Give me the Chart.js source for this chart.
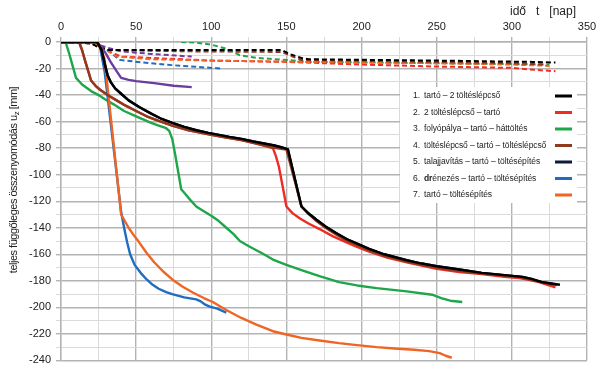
<!DOCTYPE html>
<html>
<head>
<meta charset="utf-8">
<script src="https://cdn.jsdelivr.net/npm/chart.js@4"></script>
<style>
  html,body{margin:0;padding:0;background:#fff;}
  #wrap{width:600px;height:372px;}
</style>
</head>
<body>
<div id="wrap"><canvas id="settle"></canvas></div>
<script>
// time [nap] and settlement u_z [mm] for each curve
// solid curves
const blackT = [0, 24, 27, 29, 31, 33, 36, 40, 45, 52, 60, 67, 74, 82, 90, 98, 105, 112, 120, 128, 135, 142, 147, 151, 160, 165, 170, 176, 183, 190, 197, 205, 215, 230, 240, 250, 265, 280, 295, 307, 313, 320, 326, 332];
const blackU = [0, 0, -6, -16, -25, -30, -35, -39, -44, -49, -54, -58, -61, -64, -66.5, -68.5, -70, -71.5, -73, -75, -76.5, -78, -79.5, -81, -124, -129.5, -134, -139, -144, -148.5, -152, -156, -160, -164.5, -167, -169, -171.5, -174, -175.7, -177, -178.5, -181, -182, -183];
const redT = [0, 12, 14, 16, 20, 23, 26, 31, 37, 43, 50, 57, 65, 74, 85, 100, 110, 120, 130, 141, 143, 145, 148, 150, 154, 159, 165, 172, 181, 190, 197, 205, 217, 230, 240, 250, 265, 280, 295, 305, 312, 318, 329];
const redU = [0, 0, -6, -14, -29, -33, -36, -40, -44, -48, -52, -56, -59.5, -63, -66.5, -70, -72, -74, -76.5, -80, -86, -94, -112, -124, -129, -133, -137, -141, -146.5, -151, -154.5, -158, -162.5, -166, -168.5, -171, -173.5, -175, -177, -178, -179.5, -181, -185];
const greenT = [0, 3, 5, 7, 10, 14, 20, 25, 29, 35, 42, 50, 55, 60, 65, 70, 72, 74, 76, 78, 80, 83, 86, 90, 95, 100, 105, 110, 115, 119, 125, 130, 135, 141, 150, 160, 172, 185, 197, 210, 230, 247, 253, 259, 267];
const greenU = [0, 0, -7, -15, -27, -32, -37, -40, -43, -47, -52, -56, -58.5, -61, -63, -65, -67, -73, -85, -98, -111, -115, -119, -124, -127.5, -131, -135, -140, -145, -150, -154, -157, -160, -164, -168, -172, -176.5, -181, -183.5, -185.5, -188, -190.5, -193, -195, -196];
const brownT = [0, 12, 14, 16, 20, 23, 26, 31, 37, 43, 50, 57, 65, 74, 85, 100, 110, 120, 130, 141, 150, 160, 165, 170, 176, 183, 190, 197, 205, 215, 230, 240, 250, 265, 280, 295, 305, 312, 320, 328];
const brownU = [0, 0, -6, -14, -29, -33, -36, -40, -44, -48, -52, -56, -59.5, -63, -66.5, -70, -72, -74, -76.5, -79.5, -81, -124, -130, -135, -140, -145, -149.5, -153, -157, -161, -165.5, -168, -170, -172.5, -174.5, -176, -177, -179, -181, -183];
const navyT = [0, 24, 27, 29, 31, 33, 36, 40, 45, 52, 60, 67, 74, 82, 90, 98, 105, 112, 120, 128, 135, 142, 147, 151, 160, 165, 170, 176, 183, 190, 197, 205, 215, 230, 240, 250, 265, 280, 295, 307, 313, 320, 326, 330];
const navyU = [0, 0, -6, -16, -25, -30, -35, -39, -44, -49, -54, -58, -61, -64, -66.5, -68.5, -70, -71.5, -73, -75, -76.5, -78, -79.5, -81, -124, -129.5, -134, -139, -144, -148.5, -152, -156, -160, -164.5, -167, -169, -171.5, -174, -175.7, -177, -178.5, -181, -182, -183];
const blueT = [0, 23, 26, 29, 40, 42, 44, 46, 49, 53, 57, 61, 65, 70, 74, 82, 90, 93, 96, 99, 104, 110];
const blueU = [0, 0, -4, -22, -128, -140, -151, -160, -168, -174, -179, -183, -186, -188.5, -190, -192.5, -194, -195.5, -198, -199.5, -201, -204];
const orangeT = [0, 22, 26, 29, 40, 42, 45, 48, 52, 57, 62, 68, 74, 81, 88, 95, 101, 110, 120, 130, 141, 150, 160, 172, 185, 197, 210, 222, 235, 245, 252, 256, 260];
const orangeU = [0, 0, -3, -13, -130, -134, -140, -145, -151, -159, -166, -173, -179, -184.5, -189, -193, -196, -202, -208, -213, -218, -220.5, -223, -225, -227, -228.5, -230, -231, -232, -233, -234.5, -236.5, -238];
const purpleT = [0, 24, 27, 30, 33, 37, 40, 45, 50, 62, 75, 87];
const purpleU = [0, 0, -4, -9, -15, -22, -27, -28.5, -29.5, -31, -33, -34];
// dashed curves
const blackDT = [0, 20, 25, 32, 80, 147, 152, 160, 165, 250, 314, 329];
const blackDU = [0, -1, -4, -6, -6, -6, -9, -12, -13, -14, -15, -15.5];
const brownDT = [0, 20, 30, 80, 147, 152, 160, 250, 300, 323];
const brownDU = [0, -1, -6, -7, -7.5, -10, -13.5, -15, -16, -17];
const orangeDT = [0, 22, 30, 37, 60, 100, 160, 250, 300, 325];
const orangeDU = [0, -1, -6, -11, -13, -14, -15, -16, -17, -18];
const redDT = [0, 20, 30, 40, 100, 150, 200, 250, 300, 315, 329];
const redDU = [0, -1, -6, -11, -14, -15, -17, -18.5, -19.5, -21, -22];
const greenDT = [80, 90, 100, 110, 119, 130, 150, 165, 250, 325];
const greenDU = [0, -0.5, -2, -5, -10, -12, -13.5, -15, -16, -17];
const purpleDT = [0, 22, 30, 40, 60, 87];
const purpleDU = [0, -1, -4, -7, -9, -11];
const blueDT = [0, 24, 32, 39, 59, 80, 107];
const blueDU = [0, -1, -7, -13.5, -16, -18, -20];

// legend rows
const legendNums = ['1.', '2.', '3.', '4.', '5.', '6.', '7.'];
const legendTexts = [
  'tartó – 2 töltéslépcső',
  '2 töltéslépcső – tartó',
  'folyópálya – tartó – háttöltés',
  'töltéslépcső – tartó – töltéslépcső',
  'talajjavítás – tartó – töltésépítés',
  'drénezés – tartó – töltésépítés',
  'tartó – töltésépítés'
];

const C = {
  black: '#000000', red: '#ee2b25', green: '#1ea64b', brown: '#8e3a1f',
  navy: '#101a3a', blue: '#1f6cc2', orange: '#ee6524', purple: '#6b3d9e'
};
const legendColors = [C.black, C.red, C.green, C.brown, C.navy, C.blue, C.orange];

const FONT = "'Liberation Sans', Arial, sans-serif";

function pts(t, u) {
  return t.map((v, i) => ({ x: v, y: u[i] }));
}
function solid(t, u, color) {
  return { data: pts(t, u), borderColor: color, borderWidth: 2.4, pointRadius: 0, fill: false, tension: 0, borderJoinStyle: 'round' };
}
function dashed(t, u, color) {
  return { data: pts(t, u), borderColor: color, borderWidth: 2, borderDash: [5, 3], pointRadius: 0, fill: false, tension: 0 };
}

// draw legend box and axis titles by hand
const extras = {
  id: 'extras',
  afterDraw(chart) {
    const ctx = chart.ctx;
    ctx.save();
    // legend
    ctx.fillStyle = '#ffffff';
    ctx.fillRect(400, 87, 177, 116);
    ctx.textBaseline = 'middle';
    ctx.letterSpacing = '-0.1px';
    for (let i = 0; i < legendTexts.length; i++) {
      const y = 96 + i * 16.5;
      ctx.fillStyle = '#222';
      ctx.font = '8.5px ' + FONT;
      ctx.textAlign = 'left';
      ctx.fillText(legendNums[i], 413, y);
      let txt = legendTexts[i];
      let x = 424;
      if (i === 5) {
        ctx.font = 'bold 8.5px ' + FONT;
        ctx.fillText('dr', x, y);
        x += ctx.measureText('dr').width;
        ctx.font = '8.5px ' + FONT;
        txt = txt.slice(2);
      }
      ctx.fillText(txt, x, y);
      ctx.fillStyle = legendColors[i];
      ctx.fillRect(555, y - 1.5, 17, 3);
    }
    // x title
    ctx.letterSpacing = '0px';
    ctx.fillStyle = '#222';
    ctx.font = '12px ' + FONT;
    ctx.textAlign = 'right';
    ctx.textBaseline = 'middle';
    ctx.fillText('idő   t   [nap]', 576, 12);
    // y title with subscript
    ctx.translate(14, 180);
    ctx.rotate(-Math.PI / 2);
    ctx.letterSpacing = '-0.5px';
    const a = 'teljes függőleges összenyomódás u';
    const b = 'z';
    const c = ' [mm]';
    ctx.font = '11px ' + FONT;
    const wa = ctx.measureText(a).width, wc = ctx.measureText(c).width;
    ctx.font = '8px ' + FONT;
    const wb = ctx.measureText(b).width;
    let sx = -(wa + wb + wc) / 2;
    ctx.textAlign = 'left';
    ctx.font = '11px ' + FONT;
    ctx.fillText(a, sx, 0);
    ctx.font = '8px ' + FONT;
    ctx.fillText(b, sx + wa, 3);
    ctx.font = '11px ' + FONT;
    ctx.fillText(c, sx + wa + wb, 0);
    ctx.restore();
  }
};

const gridColor = (step) => (c) => (c.tick && c.tick.value % step === 0 ? '#b3b3b3' : '#dadada');
const gridWidth = (step) => (c) => (c.tick && c.tick.value % step === 0 ? 1.4 : 1);

new Chart(document.getElementById('settle').getContext('2d'), {
  type: 'line',
  data: {
    datasets: [
      solid(blackT, blackU, C.black),
      solid(brownT, brownU, C.brown),
      solid(redT, redU, C.red),
      solid(navyT, navyU, C.navy),
      solid(orangeT, orangeU, C.orange),
      solid(blueT, blueU, C.blue),
      solid(greenT, greenU, C.green),
      solid(purpleT, purpleU, C.purple),
      dashed(blackDT, blackDU, C.black),
      dashed(brownDT, brownDU, C.brown),
      dashed(orangeDT, orangeDU, C.orange),
      dashed(redDT, redDU, C.red),
      dashed(greenDT, greenDU, C.green),
      dashed(purpleDT, purpleDU, C.purple),
      dashed(blueDT, blueDU, C.blue)
    ]
  },
  options: {
    responsive: true,
    maintainAspectRatio: false,
    animation: false,
    layout: { padding: { left: 0, right: 13, top: 0, bottom: 11 } },
    plugins: { legend: { display: false }, tooltip: { enabled: false } },
    scales: {
      x: {
        type: 'linear',
        position: 'top',
        min: 0, max: 350,
        afterFit: (s) => { s.height = 42; },
        ticks: {
          stepSize: 25, autoSkip: false, maxRotation: 0, padding: 3,
          color: '#222', font: { family: FONT, size: 11 },
          callback: (v) => (v % 50 === 0 ? v : '')
        },
        grid: { color: gridColor(50), lineWidth: gridWidth(50), tickLength: 5 },
        border: { color: '#b3b3b3', width: 1.4 }
      },
      y: {
        type: 'linear',
        min: -240, max: 0,
        afterFit: (s) => { s.width = 61; },
        ticks: {
          stepSize: 10, autoSkip: false, padding: 5,
          color: '#222', font: { family: FONT, size: 11 },
          callback: (v) => (v % 20 === 0 ? v : '')
        },
        grid: { color: gridColor(20), lineWidth: gridWidth(20), tickLength: 5 },
        border: { color: '#b3b3b3', width: 1.4 }
      }
    }
  },
  plugins: [extras]
});
</script>
</body>
</html>
